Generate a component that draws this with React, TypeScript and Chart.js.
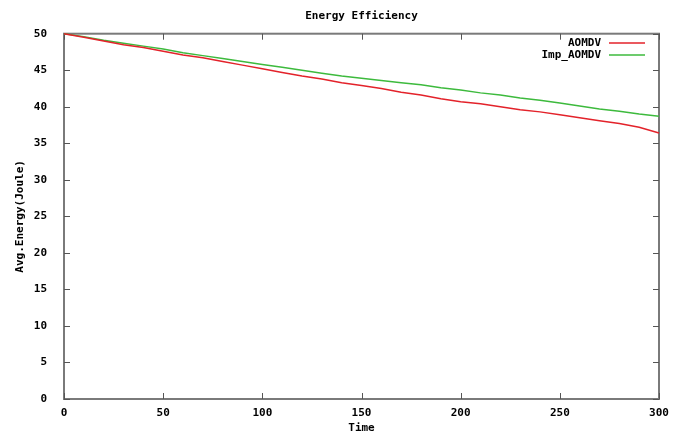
import React, { useEffect, useRef } from "react";
import { Chart, registerables } from "chart.js";

Chart.register(...registerables);

const timePoints = [0, 10, 20, 30, 40, 50, 60, 70, 80, 90, 100, 110, 120, 130, 140, 150, 160, 170, 180, 190, 200, 210, 220, 230, 240, 250, 260, 270, 280, 290, 300];
const aomdv = [50.0, 49.5, 49.0, 48.5, 48.1, 47.6, 47.1, 46.7, 46.2, 45.7, 45.2, 44.7, 44.2, 43.8, 43.3, 42.9, 42.5, 42.0, 41.6, 41.1, 40.7, 40.4, 40.0, 39.6, 39.3, 38.9, 38.5, 38.1, 37.7, 37.2, 36.4];
const impAomdv = [50.0, 49.6, 49.1, 48.7, 48.3, 47.9, 47.4, 47.0, 46.6, 46.2, 45.8, 45.4, 45.0, 44.6, 44.2, 43.9, 43.6, 43.3, 43.0, 42.6, 42.3, 41.9, 41.6, 41.2, 40.9, 40.5, 40.1, 39.7, 39.4, 39.0, 38.7];
const xTicks = [0, 50, 100, 150, 200, 250, 300];
const yTicks = [0, 5, 10, 15, 20, 25, 30, 35, 40, 45, 50];
const seriesLabels = ["AOMDV", "Imp_AOMDV"];
const seriesColors = ["#e3222a", "#3dba3d"];

const FONT = "'DejaVu Sans Mono', 'Liberation Mono', monospace";

const framePlugin = {
  id: "gnuFrame",
  beforeDatasetsDraw(chart: any) {
    const { ctx, chartArea, scales } = chart;
    const { left, right, top, bottom } = chartArea;
    ctx.save();
    ctx.strokeStyle = "#7a7a7a";
    ctx.lineWidth = 2;
    ctx.strokeRect(left, top, right - left, bottom - top);
    ctx.lineWidth = 1;
    ctx.strokeStyle = "#555";
    const len = 6;
    ctx.beginPath();
    for (const v of xTicks) {
      const x = Math.round(scales.x.getPixelForValue(v)) + 0.5;
      ctx.moveTo(x, bottom);
      ctx.lineTo(x, bottom - len);
      ctx.moveTo(x, top);
      ctx.lineTo(x, top + len);
    }
    for (const v of yTicks) {
      const y = Math.round(scales.y.getPixelForValue(v)) + 0.5;
      ctx.moveTo(left, y);
      ctx.lineTo(left + len, y);
      ctx.moveTo(right, y);
      ctx.lineTo(right - len, y);
    }
    ctx.stroke();
    ctx.restore();
  },
};

const legendPlugin = {
  id: "gnuLegend",
  afterDraw(chart: any) {
    const { ctx, chartArea } = chart;
    ctx.save();
    ctx.font = `bold 11px ${FONT}`;
    ctx.textAlign = "right";
    ctx.textBaseline = "middle";
    chart.data.datasets.forEach((ds: any, i: number) => {
      const y = Math.round(chartArea.top + 9.5 + i * 12);
      ctx.fillStyle = "#000";
      ctx.fillText(ds.label, chartArea.right - 58, y);
      ctx.strokeStyle = ds.borderColor;
      ctx.lineWidth = 1.5;
      ctx.beginPath();
      ctx.moveTo(chartArea.right - 50, y);
      ctx.lineTo(chartArea.right - 14, y);
      ctx.stroke();
    });
    ctx.restore();
  },
};

export default function App() {
  const ref = useRef<HTMLCanvasElement>(null);
  useEffect(() => {
    if (!ref.current) return;
    const chart = new Chart(ref.current, {
      type: "line",
      data: {
        datasets: [
          {
            label: seriesLabels[0],
            data: timePoints.map((t, i) => ({ x: t, y: aomdv[i] })),
            borderColor: seriesColors[0],
            borderWidth: 1.5,
            pointRadius: 0,
            tension: 0,
            clip: false as any,
          },
          {
            label: seriesLabels[1],
            data: timePoints.map((t, i) => ({ x: t, y: impAomdv[i] })),
            borderColor: seriesColors[1],
            borderWidth: 1.5,
            pointRadius: 0,
            tension: 0,
            clip: false as any,
          },
        ],
      },
      options: {
        animation: false,
        responsive: false,
        devicePixelRatio: 1,
        layout: { padding: { left: 0, right: 28, top: 0, bottom: 0 } },
        plugins: {
          legend: { display: false },
          tooltip: { enabled: false },
          title: {
            display: true,
            text: "Energy Efficiency",
            fullSize: false,
            color: "#000",
            font: { family: FONT, weight: "bold", size: 11 },
            padding: { top: 10, bottom: 10.5 },
          },
        },
        scales: {
          x: {
            type: "linear",
            min: 0,
            max: 300,
            grid: { display: false },
            border: { display: false },
            ticks: {
              stepSize: 50,
              color: "#000",
              padding: 0,
              font: { family: FONT, weight: "bold", size: 11 },
            },
            title: {
              display: true,
              text: "Time",
              color: "#000",
              font: { family: FONT, weight: "bold", size: 11 },
              padding: { top: 0, bottom: -1.5 },
            },
            afterFit(scale: any) {
              scale.height = 34;
            },
          },
          y: {
            min: 0,
            max: 50,
            grid: { display: false },
            border: { display: false },
            ticks: {
              stepSize: 5,
              color: "#000",
              padding: 9,
              font: { family: FONT, weight: "bold", size: 11 },
            },
            title: {
              display: true,
              text: "Avg.Energy(Joule)",
              color: "#000",
              font: { family: FONT, weight: "bold", size: 11 },
              padding: { top: 14, bottom: 0 },
            },
            afterFit(scale: any) {
              scale.width = 64;
            },
          },
        },
      },
      plugins: [framePlugin, legendPlugin],
    });
    return () => chart.destroy();
  }, []);
  return (
    <div style={{ position: "absolute", left: 0, top: 0, width: 687, height: 433, background: "#fff" }}>
      <canvas ref={ref} width={687} height={433} style={{ display: "block" }} />
    </div>
  );
}
